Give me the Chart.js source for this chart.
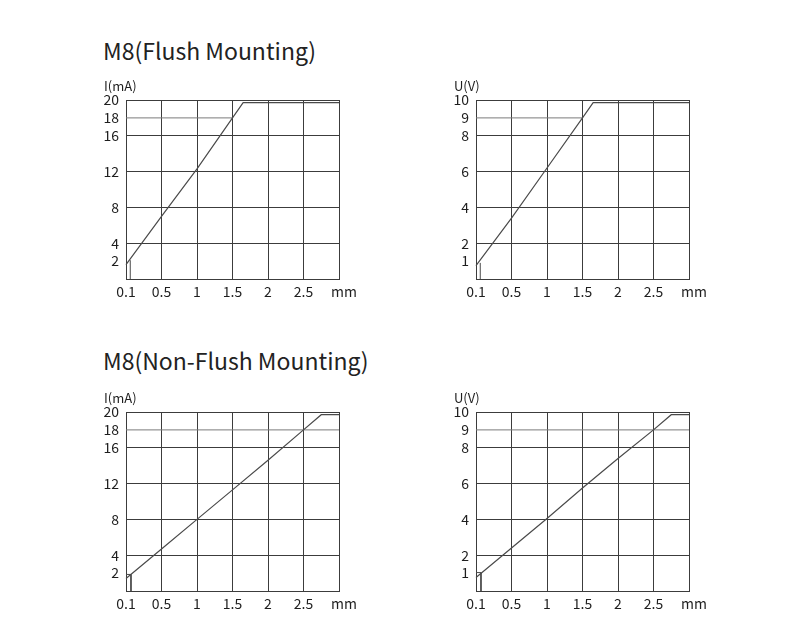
<!DOCTYPE html>
<html>
<head>
<meta charset="utf-8">
<script src="https://cdn.jsdelivr.net/npm/chart.js@4.4.1/dist/chart.umd.min.js"></script>
<style>
  body { margin: 0; background: #fff; width: 800px; height: 644px; position: relative; overflow: hidden; }
  .title { position: absolute; left: 103px; font-family: "Noto Sans CJK SC", "Noto Sans", sans-serif; font-size: 23px; color: #222; line-height: 1; }
  canvas { position: absolute; }
</style>
</head>
<body>
<div class="title" style="top: 39px;">M8(Flush Mounting)</div>
<div class="title" style="top: 349px;">M8(Non-Flush Mounting)</div>
<canvas id="flushI" width="270" height="240" style="left:90px; top:70px;"></canvas>
<canvas id="flushU" width="270" height="240" style="left:440px; top:70px;"></canvas>
<canvas id="nonFlushI" width="270" height="240" style="left:90px; top:382px;"></canvas>
<canvas id="nonFlushU" width="270" height="240" style="left:440px; top:382px;"></canvas>
<script>
// axes
const xTicks = [0, 0.5, 1, 1.5, 2, 2.5, 3];
const xTickLabels = ['0.1', '0.5', '1', '1.5', '2', '2.5', ''];
const iTicks = [0, 2, 4, 8, 12, 16, 18, 20];
const uTicks = [0, 1, 2, 4, 6, 8, 9, 10];

// flush mounting curves (distance mm -> output)
const flushX = [0, 0.5, 1, 1.5, 1.65, 3];
const flushI = [1.6, 7.0, 12.3, 18, 19.7, 19.7];
const flushU = [0.75, 3.4, 6.2, 9, 9.85, 9.85];

// non-flush mounting curves
const nonFlushX = [0, 0.5, 1, 1.5, 2, 2.5, 2.75, 3];
const nonFlushI = [1.4, 4.7, 8, 11.3, 14.6, 18, 19.7, 19.7];
const nonFlushU = [0.75, 2.4, 4.05, 5.75, 7.4, 9, 9.85, 9.85];

// small start markers near 0.1 mm
const flushMarkX = [0.06, 0.06];
const flushMarkI = [0, 2.1];
const flushMarkU = [0, 0.9];
const nonFlushMarkX = [0, 0.07, 0.07];
const nonFlushMarkI = [1.85, 1.85, 0];
const nonFlushMarkU = [1.03, 1.03, 0];

// 90% reference lines
const flushRefX = [0, 1.5];
const nonFlushRefX = [0, 3];
const refI = [18, 18];
const refU = [9, 9];

const gridColor = '#3c3c3c';
const lineColor = '#4a4a4a';
const tickFont = { family: '"Noto Sans CJK SC", "Noto Sans", sans-serif', size: 14 };

const toPoints = (xs, ys) => xs.map((x, i) => ({ x: x, y: ys[i] }));

const unitLabels = {
  id: 'unitLabels',
  afterDraw(chart, args, opts) {
    const { ctx, chartArea } = chart;
    ctx.save();
    ctx.fillStyle = '#1e1e1e';
    ctx.font = '13px "Noto Sans CJK SC", "Noto Sans", sans-serif';
    ctx.textBaseline = 'middle';
    ctx.textAlign = 'left';
    ctx.fillText(opts.yUnit, chartArea.left - 22, chartArea.top - 14);
    ctx.font = '14px "Noto Sans CJK SC", "Noto Sans", sans-serif';
    ctx.textAlign = 'center';
    ctx.fillText('mm', chartArea.right + 5, chartArea.bottom + 13);
    ctx.restore();
  }
};

function makeChart(id, xs, ys, markX, markY, refX, refY, yTicks, yMax, yUnit, refGrid) {
  new Chart(document.getElementById(id), {
    type: 'scatter',
    data: {
      datasets: [
        { data: toPoints(xs, ys), showLine: true, borderColor: lineColor, borderWidth: 1.2, pointRadius: 0, clip: 2 },
        { data: toPoints(markX, markY), showLine: true, borderColor: lineColor, borderWidth: 1, pointRadius: 0, clip: 2 },
        { data: toPoints(refX, refY), showLine: true, borderColor: '#7a7a7a', borderWidth: 1, pointRadius: 0, clip: 2 }
      ]
    },
    options: {
      responsive: false,
      animation: false,
      layout: { padding: { top: 30, right: 21, left: 0, bottom: 0 } },
      plugins: { legend: { display: false }, tooltip: { enabled: false }, unitLabels: { yUnit: yUnit } },
      scales: {
        x: {
          type: 'linear', min: 0, max: 3,
          afterBuildTicks: s => { s.ticks = xTicks.map(v => ({ value: v })); },
          afterFit: s => { s.height = 31; },
          ticks: {
            callback: v => xTickLabels[xTicks.indexOf(v)],
            color: '#1e1e1e', font: tickFont, padding: 4, maxRotation: 0, autoSkip: false
          },
          grid: { color: gridColor, drawTicks: false, lineWidth: 1 },
          border: { color: gridColor }
        },
        y: {
          min: 0, max: yMax,
          afterBuildTicks: s => { s.ticks = yTicks.map(v => ({ value: v })); },
          afterFit: s => { s.width = 36; },
          ticks: {
            callback: v => (v === 0 ? '' : String(v)),
            color: '#1e1e1e', font: tickFont, padding: 7, autoSkip: false
          },
          grid: {
            color: c => (c.tick && (c.tick.value === yTicks[1] || c.tick.value === refGrid) ? 'rgba(0,0,0,0)' : gridColor),
            drawTicks: false, lineWidth: 1
          },
          border: { color: gridColor }
        }
      }
    },
    plugins: [unitLabels]
  });
}

makeChart('flushI', flushX, flushI, flushMarkX, flushMarkI, flushRefX, refI, iTicks, 20, 'I(mA)', 18);
makeChart('flushU', flushX, flushU, flushMarkX, flushMarkU, flushRefX, refU, uTicks, 10, 'U(V)', 9);
makeChart('nonFlushI', nonFlushX, nonFlushI, nonFlushMarkX, nonFlushMarkI, nonFlushRefX, refI, iTicks, 20, 'I(mA)', 18);
makeChart('nonFlushU', nonFlushX, nonFlushU, nonFlushMarkX, nonFlushMarkU, nonFlushRefX, refU, uTicks, 10, 'U(V)', 9);
</script>
</body>
</html>
